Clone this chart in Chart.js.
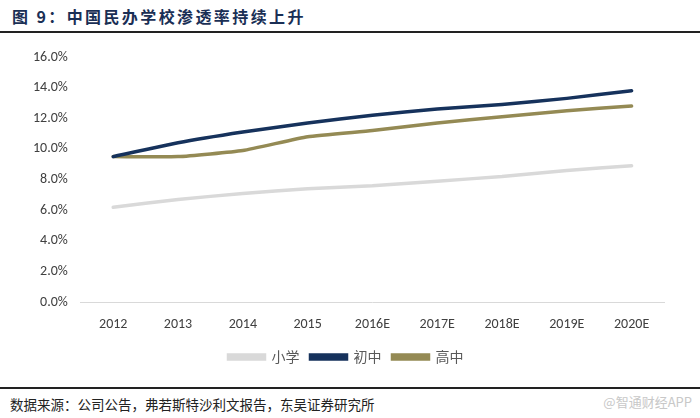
<!DOCTYPE html>
<html>
<head>
<meta charset="utf-8">
<script src="https://cdn.jsdelivr.net/npm/chart.js@4/dist/chart.umd.min.js"></script>
<style>
  html, body { margin: 0; padding: 0; background: #fff; }
  #wrap { position: relative; width: 700px; height: 418px; overflow: hidden; }
  #title { position: absolute; left: 12px; top: 4px; font: bold 16px "Noto Sans CJK SC", sans-serif; color: #1a2f55; letter-spacing: 2.4px; }
  #topRule { position: absolute; left: 0; top: 31px; width: 700px; height: 2px; background: #222; }
  #botRule { position: absolute; left: 0; top: 387px; width: 700px; height: 2px; background: #222; }
  #source { position: absolute; left: 10px; top: 394px; font: 13.5px "Noto Sans CJK SC", sans-serif; color: #222; }
  #mark { position: absolute; right: 8px; top: 392px; font: 13px "Noto Sans CJK SC", sans-serif; color: #c8c8c8; }
  #chartBox { position: absolute; left: 0; top: 34px; width: 700px; height: 350px; }
</style>
</head>
<body>
<div id="wrap">
  <div id="title">图 9：中国民办学校渗透率持续上升</div>
  <div id="topRule"></div>
  <div id="chartBox"><canvas id="penetrationChart"></canvas></div>
  <div id="botRule"></div>
  <div id="source">数据来源：公司公告，弗若斯特沙利文报告，东吴证券研究所</div>
  <div id="mark">@智通财经APP</div>
</div>
<script>
// 数据
const years = ['2012', '2013', '2014', '2015', '2016E', '2017E', '2018E', '2019E', '2020E'];
const primary = [6.2, 6.7, 7.1, 7.4, 7.6, 7.9, 8.2, 8.6, 8.9];
const juniorHigh = [9.5, 10.4, 11.1, 11.7, 12.2, 12.6, 12.9, 13.3, 13.8];
const seniorHigh = [9.5, 9.5, 9.9, 10.8, 11.2, 11.7, 12.1, 12.5, 12.8];
const yTicks = [0, 2, 4, 6, 8, 10, 12, 14, 16];

function makeSeries(label, data, color) {
    return {
        label: label,
        data: data,
        borderColor: color,
        backgroundColor: color,
        borderWidth: 3.5,
        pointRadius: 0,
        tension: 0.15,
        borderCapStyle: 'round'
    };
}

const tickFont = { family: 'Calibri, Carlito, "Open Sans", sans-serif', size: 14 };

const ctx = document.getElementById('penetrationChart');
new Chart(ctx, {
    type: 'line',
    data: {
        labels: years,
        datasets: [
            makeSeries('小学', primary, '#d9d9d9'),
            makeSeries('初中', juniorHigh, '#16325c'),
            makeSeries('高中', seniorHigh, '#948a54')
        ]
    },
    options: {
        responsive: true,
        maintainAspectRatio: false,
        animation: false,
        layout: { padding: { left: 28, right: 36, top: 23, bottom: 10 } },
        plugins: {
            tooltip: { enabled: false },
            legend: {
                position: 'bottom',
                labels: {
                    boxWidth: 36,
                    boxHeight: 4,
                    padding: 11,
                    color: '#595959',
                    font: { family: '"Noto Sans CJK SC", sans-serif', size: 14 }
                }
            }
        },
        scales: {
            x: {
                offset: true,
                grid: { display: false },
                border: { color: '#d9d9d9', width: 1 },
                ticks: {
                    color: '#404040',
                    padding: 6,
                    font: tickFont
                }
            },
            y: {
                min: 0,
                max: 16,
                afterBuildTicks: function(axis) {
                    axis.ticks = yTicks.map(function(v) { return { value: v }; });
                },
                grid: { display: false },
                border: { display: false },
                ticks: {
                    color: '#404040',
                    padding: 5,
                    font: tickFont,
                    callback: function(v) { return v.toFixed(1) + '%'; }
                }
            }
        }
    }
});
</script>
</body>
</html>
